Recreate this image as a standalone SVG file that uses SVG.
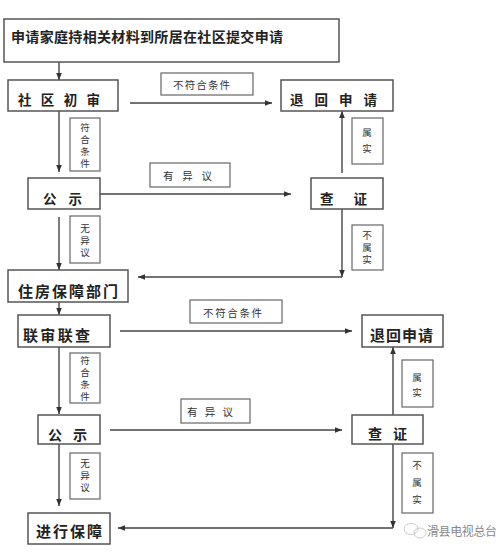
<svg xmlns="http://www.w3.org/2000/svg" width="500" height="558" viewBox="0 0 500 558">
<defs>
<marker id="ah" viewBox="0 0 10 10" refX="10" refY="5" markerWidth="7" markerHeight="7" markerUnits="userSpaceOnUse" orient="auto">
<path d="M0,1 L10,5 L0,9 Z" fill="#333"/>
</marker>
</defs>
<style>
.box{fill:#fff;stroke:#555;stroke-width:1.5}
.lbl{fill:#fff;stroke:#666;stroke-width:1.2}
.t{font-family:"Noto Sans CJK SC","Noto Sans",sans-serif;font-weight:bold;fill:#222;dominant-baseline:central}
.s{font-family:"Noto Sans CJK SC","Noto Sans",sans-serif;fill:#333;font-size:10.5px;dominant-baseline:central}
.v{font-family:"Liberation Sans","Noto Sans CJK SC",sans-serif;fill:#333;font-size:9.5px;text-anchor:middle;dominant-baseline:central}
.c{fill:none;stroke:#444;stroke-width:1.4}
.a{marker-end:url(#ah)}
</style>
<rect width="500" height="558" fill="#fff"/>
<g id="connectors">
<line class="c a" x1="59" y1="62" x2="59" y2="80"/>
<line class="c a" x1="130" y1="103" x2="272" y2="103"/>
<line class="c a" x1="342" y1="173" x2="342" y2="111"/>
<line class="c a" x1="59" y1="111" x2="59" y2="172"/>
<line class="c a" x1="100" y1="194" x2="291" y2="194"/>
<line class="c a" x1="59" y1="217" x2="59" y2="270"/>
<line class="c a" x1="342" y1="209" x2="342" y2="277"/>
<line class="c a" x1="342" y1="277" x2="138" y2="277"/>
<line class="c a" x1="59" y1="302" x2="59" y2="315"/>
<line class="c a" x1="120" y1="331" x2="352" y2="331"/>
<line class="c a" x1="393" y1="415" x2="393" y2="347"/>
<line class="c a" x1="59" y1="347" x2="59" y2="414"/>
<line class="c a" x1="110" y1="430" x2="342" y2="430"/>
<line class="c a" x1="393" y1="444" x2="393" y2="528"/>
<line class="c a" x1="393" y1="528" x2="118" y2="528"/>
<line class="c a" x1="59" y1="444" x2="59" y2="506"/>
</g>
<g id="n-apply"><rect class="box" x="4" y="19" width="335" height="43"/><text class="t" x="11" y="36" font-size="14" textLength="272" lengthAdjust="spacing">申请家庭持相关材料到所居在社区提交申请</text></g>
<g id="n-community"><rect class="box" x="8" y="80" width="110" height="31"/><text class="t" x="18" y="99" font-size="13.5" textLength="82" lengthAdjust="spacing">社区初审</text></g>
<g id="n-return1"><rect class="box" x="281" y="80" width="112" height="31"/><text class="t" x="290" y="99" font-size="13.5" textLength="87" lengthAdjust="spacing">退回申请</text></g>
<g id="n-public1"><rect class="box" x="28" y="178" width="72" height="31"/><text class="t" x="43" y="198" font-size="13.5" textLength="39" lengthAdjust="spacing">公示</text></g>
<g id="n-check1"><rect class="box" x="311" y="178" width="72" height="31"/><text class="t" x="320" y="198" font-size="13.5" textLength="47" lengthAdjust="spacing">查证</text></g>
<g id="n-housing"><rect class="box" x="8" y="270" width="120" height="32"/><text class="t" x="18" y="290" font-size="15" textLength="100" lengthAdjust="spacing">住房保障部门</text></g>
<g id="n-joint"><rect class="box" x="18" y="315" width="92" height="32"/><text class="t" x="23" y="334" font-size="15" textLength="67" lengthAdjust="spacing">联审联查</text></g>
<g id="n-return2"><rect class="box" x="362" y="315" width="81" height="32"/><text class="t" x="370" y="334" font-size="15" textLength="63" lengthAdjust="spacing">退回申请</text></g>
<g id="n-public2"><rect class="box" x="38" y="415" width="62" height="29"/><text class="t" x="48" y="434" font-size="14" textLength="39" lengthAdjust="spacing">公示</text></g>
<g id="n-check2"><rect class="box" x="352" y="415" width="71" height="29"/><text class="t" x="368" y="433" font-size="14" textLength="39" lengthAdjust="spacing">查证</text></g>
<g id="n-secure"><rect class="box" x="28" y="513" width="82" height="31"/><text class="t" x="36" y="530" font-size="15" textLength="66" lengthAdjust="spacing">进行保障</text></g>
<g id="l-notmeet1"><rect class="lbl" x="161" y="73" width="92" height="22"/><text class="s" x="173" y="84" textLength="57" lengthAdjust="spacing">不符合条件</text></g>
<g id="l-meet1"><rect class="lbl" x="70" y="118" width="30" height="53"/><text class="v" x="85" y="127">符</text><text class="v" x="85" y="139">合</text><text class="v" x="85" y="151">条</text><text class="v" x="85" y="163">件</text></g>
<g id="l-object1"><rect class="lbl" x="150" y="163" width="80" height="24"/><text class="s" x="163" y="175" textLength="49" lengthAdjust="spacing">有异议</text></g>
<g id="l-noobj1"><rect class="lbl" x="70" y="216" width="30" height="47"/><text class="v" x="85" y="228">无</text><text class="v" x="85" y="240">异</text><text class="v" x="85" y="252">议</text></g>
<g id="l-true1"><rect class="lbl" x="352" y="118" width="31" height="46"/><text class="v" x="367" y="132">属</text><text class="v" x="367" y="148">实</text></g>
<g id="l-untrue1"><rect class="lbl" x="352" y="225" width="31" height="45"/><text class="v" x="367" y="235">不</text><text class="v" x="367" y="247">属</text><text class="v" x="367" y="259">实</text></g>
<g id="l-notmeet2"><rect class="lbl" x="190" y="300" width="92" height="23"/><text class="s" x="203" y="312" textLength="59" lengthAdjust="spacing">不符合条件</text></g>
<g id="l-meet2"><rect class="lbl" x="70" y="353" width="30" height="50"/><text class="v" x="85" y="360">符</text><text class="v" x="85" y="372">合</text><text class="v" x="85" y="384">条</text><text class="v" x="85" y="396">件</text></g>
<g id="l-object2"><rect class="lbl" x="181" y="399" width="69" height="24"/><text class="s" x="187" y="411" textLength="46" lengthAdjust="spacing">有异议</text></g>
<g id="l-noobj2"><rect class="lbl" x="70" y="453" width="30" height="46"/><text class="v" x="85" y="463">无</text><text class="v" x="85" y="475">异</text><text class="v" x="85" y="487">议</text></g>
<g id="l-true2"><rect class="lbl" x="402" y="360" width="31" height="47"/><text class="v" x="417" y="377">属</text><text class="v" x="417" y="392">实</text></g>
<g id="l-untrue2"><rect class="lbl" x="402" y="453" width="31" height="60"/><text class="v" x="417" y="465">不</text><text class="v" x="417" y="482">属</text><text class="v" x="417" y="499">实</text></g>
<g id="watermark">
<ellipse cx="411" cy="529" rx="7" ry="5.5" fill="none" stroke="#ccc" stroke-width="1"/>
<ellipse cx="420" cy="533" rx="6" ry="5" fill="none" stroke="#ccc" stroke-width="1"/>
<text x="427" y="530" font-family="Noto Sans CJK SC, sans-serif" font-size="12" fill="#888" dominant-baseline="central" textLength="70" lengthAdjust="spacing">滑县电视总台</text>
</g>
</svg>
